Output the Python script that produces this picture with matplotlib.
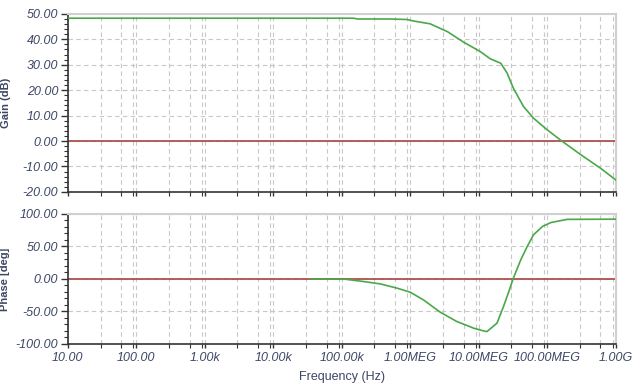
import matplotlib
matplotlib.use("Agg")
import matplotlib.pyplot as plt
from matplotlib.ticker import FixedLocator, MultipleLocator

# ===== data =====
gain_freq = [10, 1.0e3, 1.0e5, 1.5e5, 1.7e5, 5.0e5, 8.9e5, 1.12e6, 1.95e6, 3.5e6,
             6.0e6, 1.05e7, 1.48e7, 2.1e7, 2.6e7, 3.2e7, 4.5e7, 6.3e7, 1.0e8,
             1.55e8, 3.1e8, 6.0e8, 1.0e9]
gain_db = [48.3, 48.3, 48.3, 48.3, 48.0, 48.0, 47.8, 47.2, 46.1, 43.0,
           38.9, 35.2, 32.3, 30.6, 26.7, 20.8, 13.6, 9.0, 4.4,
           0.45, -5.4, -10.7, -15.3]

phase_freq = [3.5e4, 1.12e5, 2.1e5, 3.65e5, 6.5e5, 1.0e6, 1.56e6, 2.75e6, 4.8e6,
              8.5e6, 1.18e7, 1.32e7, 1.85e7, 2.3e7, 2.75e7, 3.2e7, 4.1e7, 5.1e7,
              6.3e7, 8.5e7, 1.13e8, 1.95e8, 1.0e9]
phase_deg = [0.0, -0.5, -4.1, -7.7, -14.4, -20.5, -32.3, -51.3, -65.6,
             -75.9, -80.0, -81.0, -68.0, -42.6, -19.5, 1.0, 29.0, 49.7,
             67.7, 80.5, 86.6, 91.5, 91.8]

freq_labels = ["10.00", "100.00", "1.00k", "10.00k", "100.00k",
               "1.00MEG", "10.00MEG", "100.00MEG", "1.00G"]
decades = [10.0 ** k for k in range(1, 10)]

gain_ticks = [50, 40, 30, 20, 10, 0, -10, -20]
phase_ticks = [100, 50, 0, -50, -100]

# ===== style =====
green = "#4aa84a"
red = "#b05050"
grid_col = "#c8c8c8"
txt_col = "#3c4664"
plt.rcParams["font.family"] = ["Liberation Sans", "DejaVu Sans"]

fig = plt.figure(figsize=(6.4, 3.86), dpi=100)
ax1 = fig.add_axes([0.106, 0.503, 0.856, 0.461])
ax2 = fig.add_axes([0.106, 0.109, 0.856, 0.337])

minor_x = [d * m for d in decades[:-1] for m in (3, 6, 9)]


def style_axes(ax, yticks, ystep):
    ax.set_xscale("log")
    ax.set_xlim(10, 1e9)
    ax.set_ylim(min(yticks), max(yticks))
    ax.set_xticks(decades)
    ax.xaxis.set_minor_locator(FixedLocator(minor_x))
    ax.set_yticks(yticks)
    ax.set_yticklabels([f"{v:.2f}" for v in yticks], style="italic",
                       fontsize=9, color=txt_col)
    ax.yaxis.set_minor_locator(MultipleLocator(ystep))
    for x in decades + minor_x:
        ax.axvline(x, color=grid_col, lw=0.8, ls=(0, (4, 3)), zorder=0)
    for y in yticks:
        ax.axhline(y, color=grid_col, lw=0.8, ls=(0, (4, 3)), zorder=0)
    ax.axhline(0, color=red, lw=1.3, zorder=2)
    for s in ("top", "right"):
        ax.spines[s].set_color("#d0d0d0")
        ax.spines[s].set_linewidth(1.5)
    for s in ("left", "bottom"):
        ax.spines[s].set_color("#333333")
        ax.spines[s].set_linewidth(1.2)
    ax.tick_params(which="major", direction="out", length=5, width=1,
                   color="#333333", pad=2)
    ax.tick_params(which="minor", direction="out", length=3, width=0.8, color="#333333")
    ax.tick_params(axis="x", which="both", length=3)


style_axes(ax1, gain_ticks, 2)
style_axes(ax2, phase_ticks, 10)

ax1.plot(gain_freq, gain_db, color=green, lw=1.2, zorder=3)
ax2.plot(phase_freq, phase_deg, color=green, lw=1.2, zorder=3)

ax1.set_xticklabels([])
ax2.set_xticklabels(freq_labels, style="italic", fontsize=9, color=txt_col)
ax2.tick_params(axis="x", which="major", pad=3)

ax1.set_ylabel("Gain (dB)", fontsize=8, fontweight="bold", color=txt_col, labelpad=8)
ax2.set_ylabel("Phase [deg]", fontsize=8, fontweight="bold", color=txt_col, labelpad=4)
ax2.set_xlabel("Frequency (Hz)", fontsize=9, color=txt_col, labelpad=5)
fig.align_ylabels([ax1, ax2])

fig.savefig("out.png", dpi=100)
